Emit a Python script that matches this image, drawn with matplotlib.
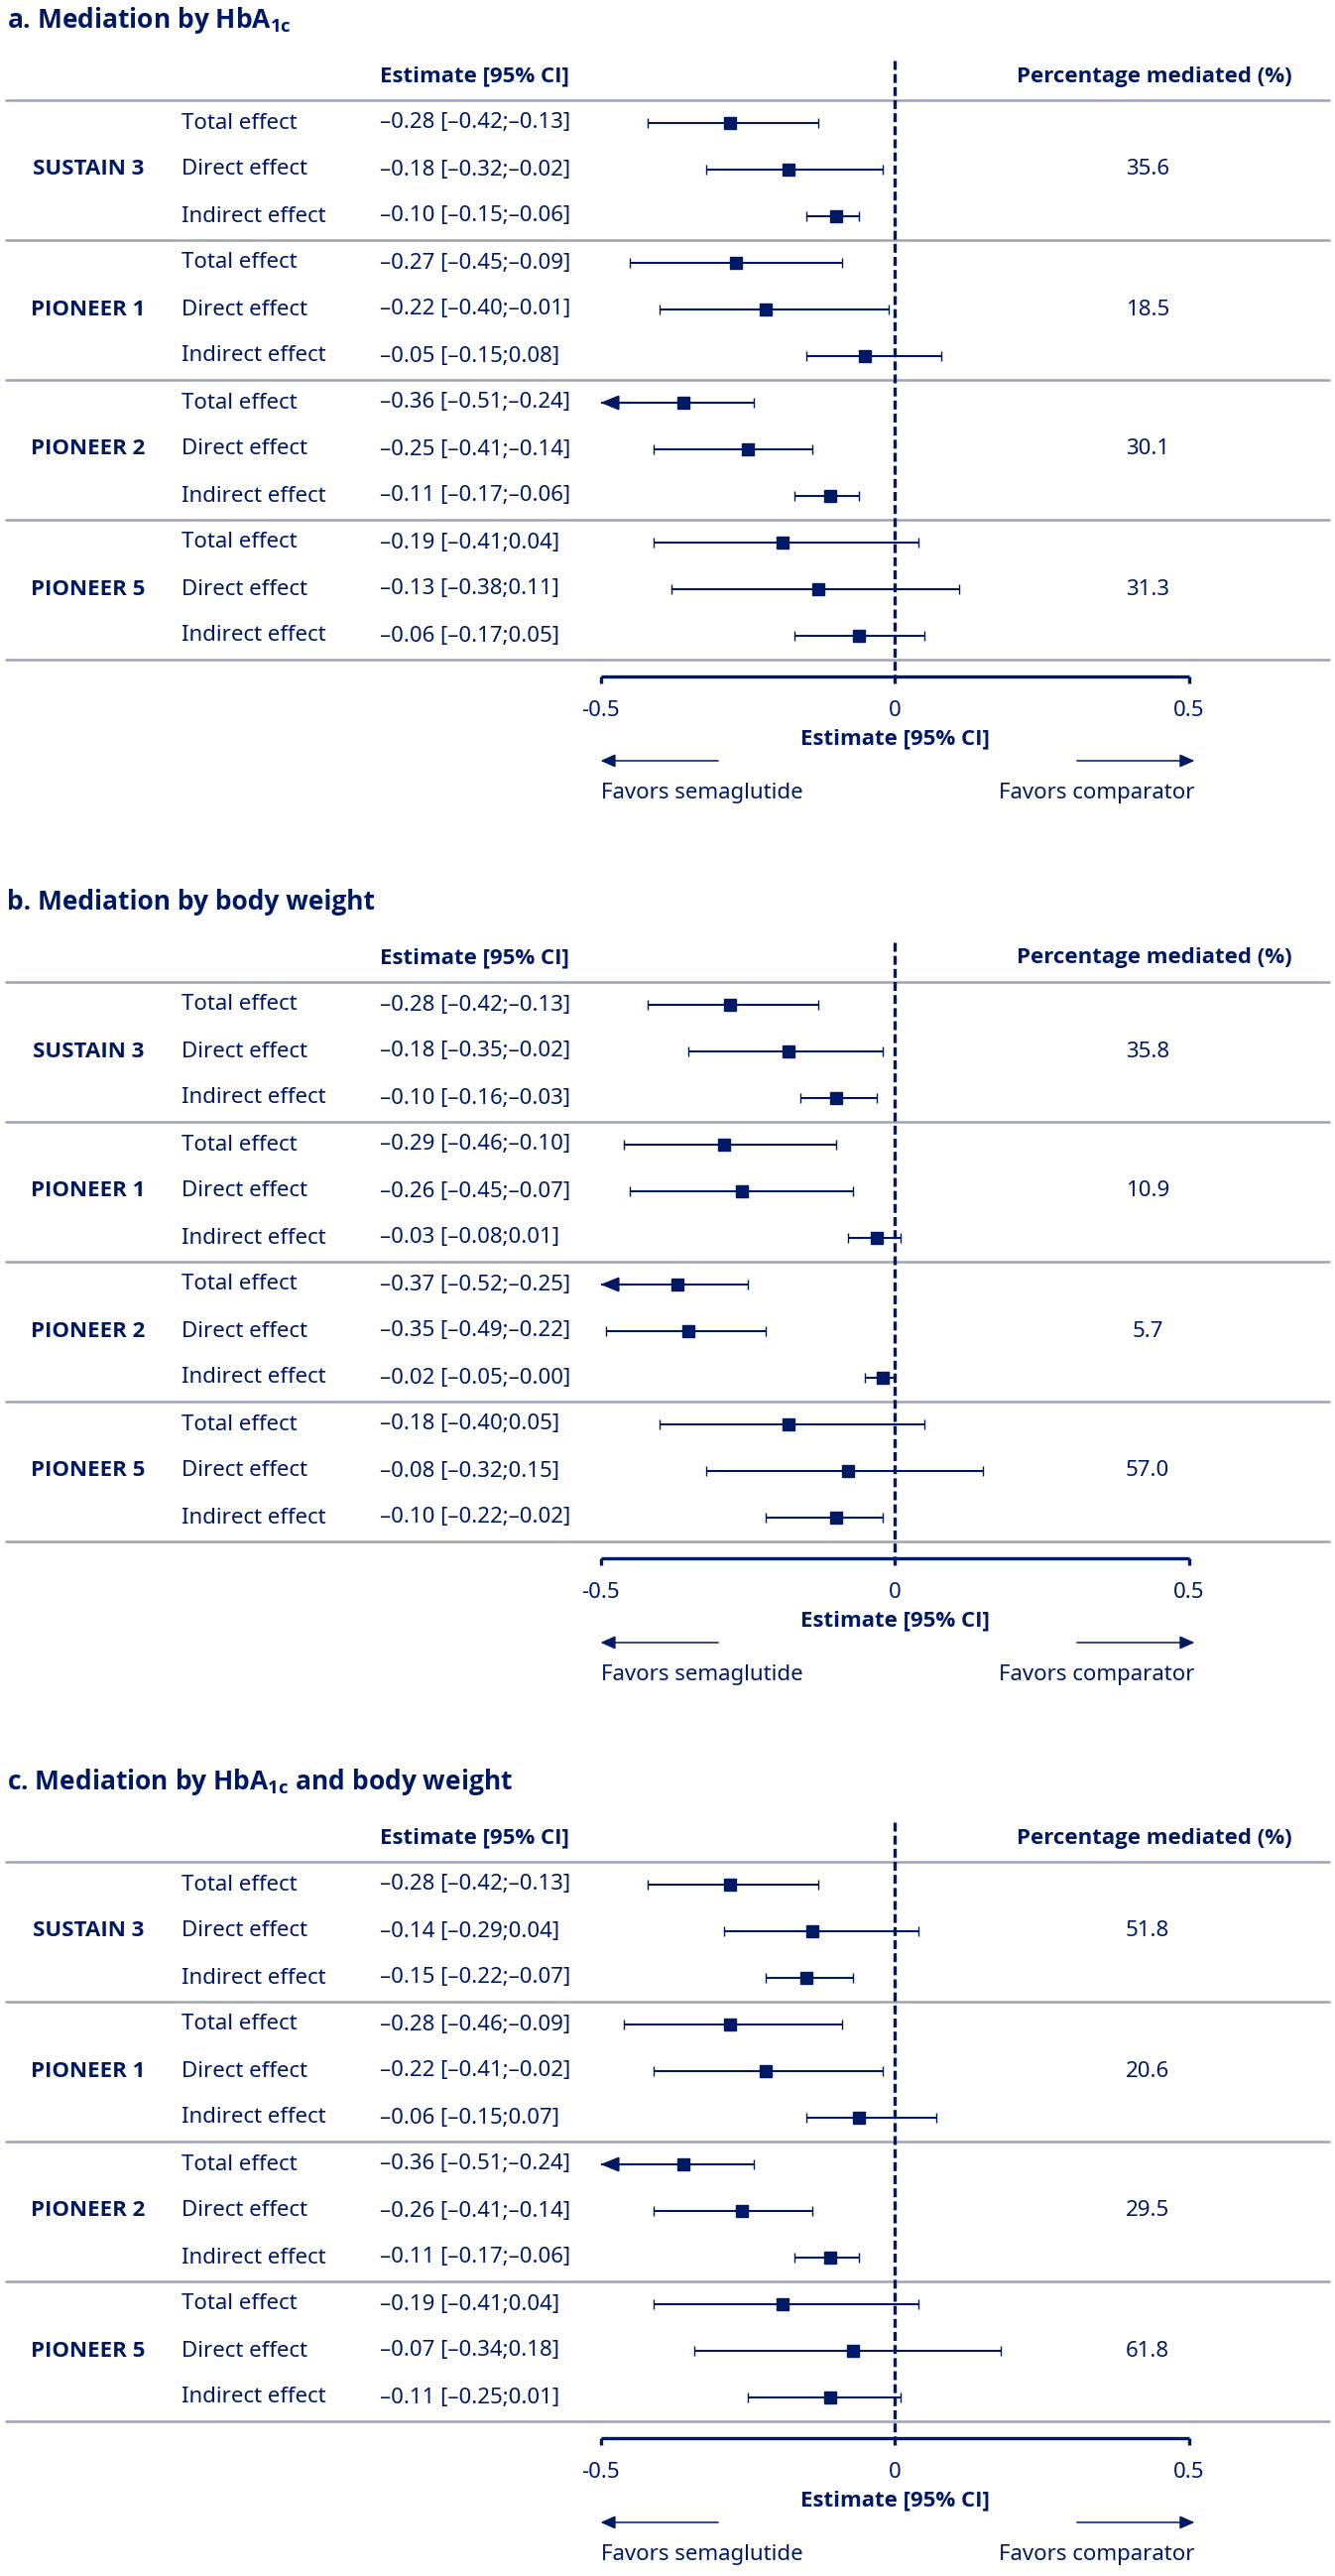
import numpy as np
import matplotlib
matplotlib.use('Agg')
import matplotlib.pyplot as plt
from matplotlib import transforms, font_manager

NAVY = '#001965'
GREY = '#9ea4b2'


def has_bold(name):
    '''True if a bold face of the family is installed.'''
    for f in font_manager.fontManager.ttflist:
        if f.name != name:
            continue
        w = f.weight
        if isinstance(w, str):
            w = font_manager.weight_dict.get(w, 400)
        if w >= 600:
            return True
    return False


# Noto Sans first; fall back to its near twin Open Sans for the bold face
FAMILY = 'Noto Sans'
BOLD_FAMILY = next((n for n in ['Noto Sans', 'Open Sans', 'Lato', 'Roboto'] if has_bold(n)), 'DejaVu Sans')

plt.rcParams['font.family'] = FAMILY
plt.rcParams['mathtext.fontset'] = 'custom'
plt.rcParams['mathtext.rm'] = BOLD_FAMILY + ':bold'
plt.rcParams['mathtext.bf'] = BOLD_FAMILY + ':bold'

studies = ['SUSTAIN 3', 'PIONEER 1', 'PIONEER 2', 'PIONEER 5']
effects = ['Total effect', 'Direct effect', 'Indirect effect']
tick_vals = [-0.5, 0, 0.5]
tick_labels = ['-0.5', '0', '0.5']

# a. mediation by HbA1c (rows: study x total/direct/indirect)
hba1c_est = [-0.28, -0.18, -0.10, -0.27, -0.22, -0.05, -0.36, -0.25, -0.11, -0.19, -0.13, -0.06]
hba1c_lo = [-0.42, -0.32, -0.15, -0.45, -0.40, -0.15, -0.51, -0.41, -0.17, -0.41, -0.38, -0.17]
hba1c_hi = [-0.13, -0.02, -0.06, -0.09, -0.01, 0.08, -0.24, -0.14, -0.06, 0.04, 0.11, 0.05]
hba1c_pct = [35.6, 18.5, 30.1, 31.3]

# b. mediation by body weight
bw_est = [-0.28, -0.18, -0.10, -0.29, -0.26, -0.03, -0.37, -0.35, -0.02, -0.18, -0.08, -0.10]
bw_lo = [-0.42, -0.35, -0.16, -0.46, -0.45, -0.08, -0.52, -0.49, -0.05, -0.40, -0.32, -0.22]
bw_hi = [-0.13, -0.02, -0.03, -0.10, -0.07, 0.01, -0.25, -0.22, -0.0, 0.05, 0.15, -0.02]
bw_pct = [35.8, 10.9, 5.7, 57.0]

# c. mediation by HbA1c and body weight
both_est = [-0.28, -0.14, -0.15, -0.28, -0.22, -0.06, -0.36, -0.26, -0.11, -0.19, -0.07, -0.11]
both_lo = [-0.42, -0.29, -0.22, -0.46, -0.41, -0.15, -0.51, -0.41, -0.17, -0.41, -0.34, -0.25]
both_hi = [-0.13, 0.04, -0.07, -0.09, -0.02, 0.07, -0.24, -0.14, -0.06, 0.04, 0.18, 0.01]
both_pct = [51.8, 20.6, 29.5, 61.8]

W, H = 1346, 2597
ROW = 47  # pixels per row
X0, XSCALE = 902, 593  # pixel of zero and pixels per unit on the forest axis
TOP, BOT = -2.6, 15.0  # panel extent in row units

BODY = 16
TITLE = 19


def fmt(v):
    return f'{v:.2f}'.replace('-', '\u2013')


def bold_text(ax, x, y, s, size=BODY, **kw):
    ax.text(x, y, s, fontsize=size, family=BOLD_FAMILY, fontweight='bold', color=NAVY, **kw)


def draw_panel(fig, row0, title, est, lo, hi, pct):
    '''Draw one forest panel whose first row sits at pixel row0 from the top.'''
    est, lo, hi = np.array(est), np.array(lo), np.array(hi)
    top = row0 + TOP * ROW
    bottom = row0 + BOT * ROW
    ax = fig.add_axes([0, 1 - bottom / H, 1, (bottom - top) / H])
    ax.set_xlim(-X0 / XSCALE, (W - X0) / XSCALE)
    ax.set_ylim(BOT, TOP)
    ax.axis('off')
    tr = transforms.blended_transform_factory(ax.transAxes, ax.transData)

    bold_text(ax, 7 / W, -2.2, title, size=TITLE, transform=tr, ha='left', va='center')
    bold_text(ax, 383 / W, -1.0, 'Estimate [95% CI]', transform=tr, ha='left', va='center')
    bold_text(ax, 1164 / W, -1.0, 'Percentage mediated (%)', transform=tr, ha='center', va='center')

    # separators
    for ys in [-0.5, 2.5, 5.5, 8.5, 11.5]:
        ax.plot([5 / W, 1341 / W], [ys, ys], transform=tr, color=GREY, lw=1.8,
                solid_capstyle='butt')

    y = np.arange(len(est))
    for i, s in enumerate(studies):
        bold_text(ax, 89 / W, 3 * i + 1, s, transform=tr, ha='center', va='center')
        ax.text(1157 / W, 3 * i + 1, f'{pct[i]:.1f}', transform=tr, ha='center', va='center',
                fontsize=BODY, color=NAVY)
    for i in y:
        ax.text(183 / W, i, effects[i % 3], transform=tr, ha='left', va='center',
                fontsize=BODY, color=NAVY)
        ax.text(383 / W, i, f'{fmt(est[i])} [{fmt(lo[i])};{fmt(hi[i])}]', transform=tr,
                ha='left', va='center', fontsize=BODY, color=NAVY)

    # zero line
    y_ax = 11.87
    ax.vlines(0, -1.34, y_ax, colors=NAVY, lw=2.4, linestyles=[(0, (2.7, 1.25))])

    # confidence intervals
    cap = 0.115
    lo_clip = np.maximum(lo, -0.5)
    ax.hlines(y, lo_clip, hi, colors=NAVY, lw=1.5)
    ax.vlines(hi, y - cap, y + cap, colors=NAVY, lw=1.0)
    keep = lo >= -0.5
    ax.vlines(lo[keep], y[keep] - cap, y[keep] + cap, colors=NAVY, lw=1.0)
    for yy in y[~keep]:
        ax.annotate('', xy=(-0.5, yy), xytext=(-0.45, yy),
                    arrowprops=dict(arrowstyle='-|>,head_length=1.1,head_width=0.45',
                                    color=NAVY, lw=1.5, shrinkA=0, shrinkB=0))
    ax.plot(est, y, 's', color=NAVY, ms=8.2, zorder=3)

    # bottom axis
    ax.plot([-0.5, 0.5], [y_ax, y_ax], color=NAVY, lw=2.4, solid_capstyle='butt')
    ax.vlines(tick_vals, y_ax, y_ax + 0.16, colors=NAVY, lw=2.4)
    for v, lab in zip(tick_vals, tick_labels):
        ax.text(v, 12.6, lab, ha='center', va='center', fontsize=BODY, color=NAVY)
    bold_text(ax, 0, 13.21, 'Estimate [95% CI]', ha='center', va='center')

    y_arr = 13.68
    ax.annotate('', xy=(-0.5, y_arr), xytext=(-0.30, y_arr),
                arrowprops=dict(arrowstyle='-|>,head_length=0.9,head_width=0.4',
                                color=NAVY, lw=1.1, shrinkA=0, shrinkB=0))
    ax.annotate('', xy=(0.51, y_arr), xytext=(0.31, y_arr),
                arrowprops=dict(arrowstyle='-|>,head_length=0.9,head_width=0.4',
                                color=NAVY, lw=1.1, shrinkA=0, shrinkB=0))
    ax.text(-0.5, 14.38, 'Favors semaglutide', ha='left', va='center',
            fontsize=BODY, color=NAVY)
    ax.text(0.51, 14.38, 'Favors comparator', ha='right', va='center',
            fontsize=BODY, color=NAVY)


fig = plt.figure(figsize=(W / 100, H / 100), dpi=100)
draw_panel(fig, 124, r'a. Mediation by HbA$_{\mathbf{1c}}$',
           hba1c_est, hba1c_lo, hba1c_hi, hba1c_pct)
draw_panel(fig, 1013, 'b. Mediation by body weight',
           bw_est, bw_lo, bw_hi, bw_pct)
draw_panel(fig, 1900, r'c. Mediation by HbA$_{\mathbf{1c}}$ and body weight',
           both_est, both_lo, both_hi, both_pct)
fig.savefig('out.png', dpi=100, facecolor='white')
